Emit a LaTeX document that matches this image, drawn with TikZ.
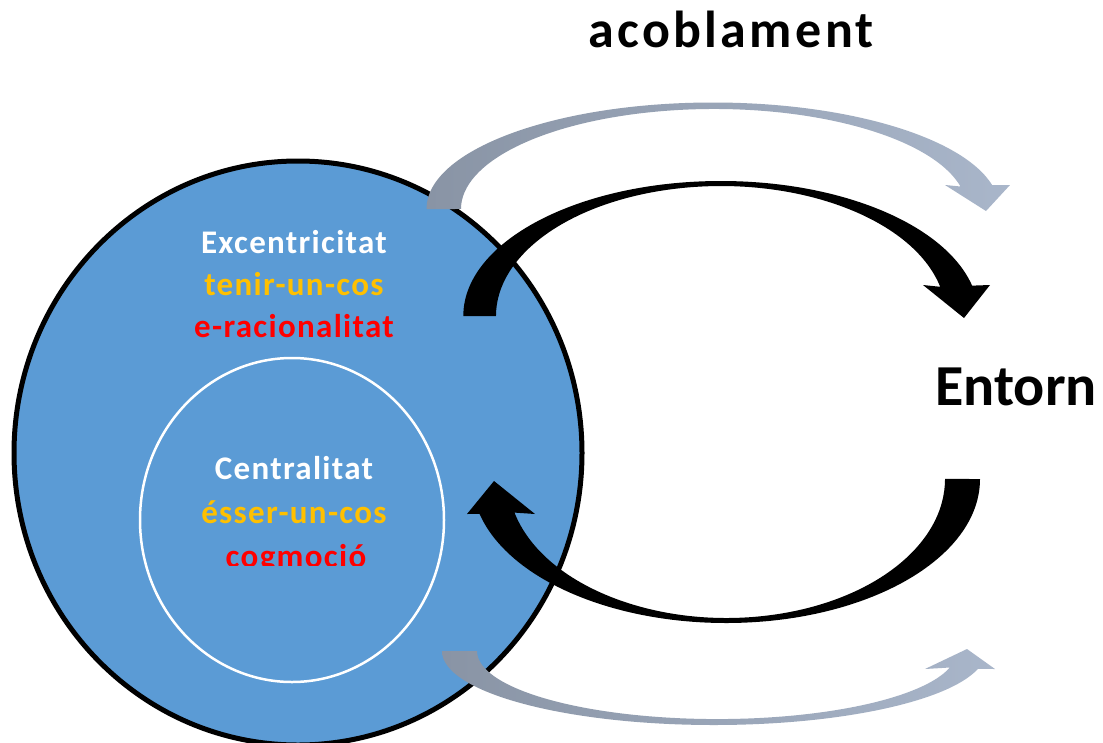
\documentclass[tikz,border=0pt]{standalone}
\usepackage{fontspec}
\setmainfont{Carlito}
\newfontfamily\titlefont[LetterSpace=6.5]{Carlito}
\newfontfamily\innerfont[LetterSpace=4]{Carlito}
\definecolor{circleblue}{HTML}{5B9BD5}
\definecolor{textorange}{HTML}{FFC000}
\definecolor{arrowgrayA}{HTML}{8994A5}
\definecolor{arrowgrayB}{HTML}{A9B6CA}
\tikzset{
	innerlabel/.style={anchor=base, font=\innerfont\bfseries\fontsize{33}{33}\selectfont},
	outerlabel/.style={anchor=base, text=black},
}
\begin{document}
\begin{tikzpicture}[x=1pt,y=-1pt]

\def\CIRCLEFILL{circleblue}
\def\ARROWDARK{black}
	\clip (0,0) rectangle (1103,742);
	\fill[white] (0,0) rectangle (1103,742);
	\filldraw[fill=\CIRCLEFILL, draw=black, line width=5] (298,453) ellipse [x radius=284, y radius=292];
	\draw[white, line width=2.5] (292,520) ellipse [x radius=152, y radius=162];
	\shade[left color=arrowgrayA, right color=arrowgrayB] (426.5,209) arc[start angle=180, end angle=347, x radius=286.5, y radius=106.5] -- (1010,185) -- (986,211) -- (945,185) -- (960.5,186.5) arc[start angle=347, end angle=180, x radius=253, y radius=100] -- cycle;
	\fill[\ARROWDARK] (463.3,316) arc[start angle=180, end angle=347, x radius=257.7, y radius=135] -- (990,285) -- (964,318) -- (923,285) -- (940.2,286.8) arc[start angle=347, end angle=180, x radius=225, y radius=130] -- cycle;
	\fill[\ARROWDARK] (980,479) arc[start angle=0, end angle=166, x radius=254, y radius=144] -- (467,514) -- (494,481) -- (535,514) -- (514.5,512.6) arc[start angle=166, end angle=0, x radius=218.5, y radius=139] -- cycle;
	\shade[left color=arrowgrayA, right color=arrowgrayB] (442,651) arc[start angle=180, end angle=14, x radius=272, y radius=74] -- (995,669) -- (967,649) -- (925,669) -- (949.9,667.5) arc[start angle=14, end angle=180, x radius=240, y radius=68] -- cycle;
	\node[outerlabel, font=\titlefont\bfseries\fontsize{52}{52}\selectfont] (acoblament) at (731,47) {acoblament};
	\node[outerlabel, font=\bfseries\fontsize{58}{58}\selectfont] (entorn) at (1016,405) {Entorn};
	\node[innerlabel, text=white] (excentricitat) at (294,253) {Excentricitat};
	\node[innerlabel, text=textorange] (tenir) at (294,295) {tenir-un-cos};
	\node[innerlabel, text=red] (racionalitat) at (294,337) {e-racionalitat};
	\node[innerlabel, text=white] (centralitat) at (294,479) {Centralitat};
	\node[innerlabel, text=textorange] (esser) at (294,523) {ésser-un-cos};
	\begin{scope}
		\clip (150,440) rectangle (440,565);
		\node[innerlabel, text=red] (cogmocio) at (296,567) {cogmoció};
	\end{scope}

\end{tikzpicture}
\end{document}
